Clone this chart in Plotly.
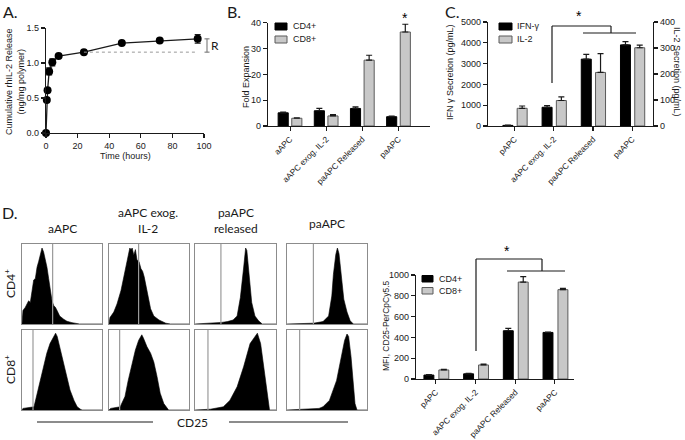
import plotly.graph_objects as go

W, H = 685, 440
def px(x): return x / W
def py(y): return 1 - y / H

# ---------------- Data ----------------
# Panel A
time_h = [0, 0.5, 1, 2, 4, 8, 24, 48, 72, 96]
release = [0.0, 0.47, 0.61, 0.88, 1.01, 1.10, 1.155, 1.285, 1.32, 1.345]
release_err = [0, 0.01, 0.02, 0.05, 0.05, 0.02, 0.02, 0.02, 0.02, 0.06]
time_ticks = [0, 20, 40, 60, 80, 100]
release_ticks = [0.0, 0.5, 1.0, 1.5]
release_ticktext = ["0.0", "0.5", "1.0", "1.5"]

# Panel B
cats_b = ["aAPC", "aAPC exog. IL-2", "paAPC Released", "paAPC"]
fold_cd4 = [5.1, 5.9, 6.8, 3.6]
fold_cd4_err = [0.3, 0.9, 0.6, 0.2]
fold_cd8 = [3.0, 3.9, 25.5, 36.4]
fold_cd8_err = [0.2, 0.5, 1.9, 3.0]
fold_ticks = [0, 10, 20, 30, 40]

# Panel C
cats_c = ["pAPC", "aAPC exog. IL-2", "paAPC Released", "paAPC"]
ifng = [30, 900, 3215, 3900]
ifng_err = [15, 80, 230, 160]
il2 = [68, 98, 206, 301]
il2_err = [9, 14, 72, 10]
ifng_ticks = [0, 1000, 2000, 3000, 4000, 5000]
il2_ticks = [0, 100, 200, 300, 400]

# Panel D (bar chart)
cats_d = ["pAPC", "aAPC exog. IL-2", "paAPC Released", "paAPC"]
mfi_cd4 = [38, 50, 464, 448]
mfi_cd4_err = [4, 5, 22, 3]
mfi_cd8 = [87, 135, 932, 859]
mfi_cd8_err = [5, 8, 52, 12]
mfi_ticks = [0, 200, 400, 600, 800, 1000]

# Panel D (CD25 histograms, normalised channel vs. normalised count)
hist_cols = ["aAPC", "aAPC exog.<br>IL-2", "paAPC<br>released", "paAPC"]
hist_rows = ["CD4<sup>+</sup>", "CD8<sup>+</sup>"]

h_cd4_aapc_x = [0.0, 0.012, 0.042, 0.083, 0.104, 0.125, 0.146, 0.167, 0.188, 0.208, 0.229, 0.25, 0.27,
                0.29, 0.312, 0.333, 0.354, 0.375, 0.396, 0.417, 0.438, 0.471, 0.521, 0.562, 0.625, 0.688, 0.72, 1.0]
h_cd4_aapc_y = [0.0, 0.17, 0.21, 0.29, 0.27, 0.42, 0.55, 0.57, 0.71, 0.78, 0.88, 0.95, 0.90,
                0.82, 0.71, 0.57, 0.42, 0.29, 0.23, 0.21, 0.17, 0.10, 0.06, 0.034, 0.017, 0.004, 0.0, 0.0]

h_cd4_exog_x = [0.0, 0.012, 0.06, 0.10, 0.15, 0.19, 0.23, 0.26, 0.275, 0.29, 0.31, 0.33, 0.35, 0.375,
                0.40, 0.42, 0.44, 0.48, 0.52, 0.56, 0.625, 0.71, 0.77, 1.0]
h_cd4_exog_y = [0.0, 0.08, 0.15, 0.25, 0.42, 0.63, 0.84, 0.95, 0.93, 0.95, 0.86, 0.93, 0.80, 0.78,
                0.69, 0.66, 0.59, 0.38, 0.19, 0.10, 0.05, 0.01, 0.0, 0.0]

h_cd4_rel_x = [0.0, 0.25, 0.33, 0.40, 0.47, 0.52, 0.56, 0.60, 0.625, 0.64, 0.67, 0.70, 0.74, 0.785, 0.83, 1.0]
h_cd4_rel_y = [0.0, 0.01, 0.02, 0.03, 0.05, 0.10, 0.33, 0.70, 0.95, 0.92, 0.62, 0.27, 0.10, 0.04, 0.0, 0.0]

h_cd4_pa_x = [0.0, 0.33, 0.45, 0.52, 0.56, 0.58, 0.61, 0.63, 0.65, 0.68, 0.71, 0.75, 0.79, 0.83, 1.0]
h_cd4_pa_y = [0.0, 0.01, 0.03, 0.10, 0.35, 0.62, 0.87, 0.95, 0.88, 0.62, 0.31, 0.15, 0.04, 0.0, 0.0]

h_cd8_aapc_x = [0.0, 0.012, 0.15, 0.19, 0.23, 0.27, 0.31, 0.35, 0.40, 0.42, 0.44, 0.48, 0.52, 0.56,
                0.60, 0.65, 0.69, 0.73, 0.75, 1.0]
h_cd8_aapc_y = [0.0, 0.02, 0.04, 0.20, 0.37, 0.54, 0.71, 0.83, 0.92, 0.96, 0.92, 0.75, 0.60, 0.42,
                0.25, 0.12, 0.04, 0.01, 0.0, 0.0]

h_cd8_exog_x = [0.0, 0.02, 0.14, 0.20, 0.24, 0.29, 0.33, 0.37, 0.41, 0.43, 0.475, 0.52, 0.56, 0.60,
                0.64, 0.685, 0.725, 0.745, 1.0]
h_cd8_exog_y = [0.0, 0.02, 0.04, 0.17, 0.37, 0.58, 0.75, 0.87, 0.94, 0.90, 0.79, 0.71, 0.60, 0.42,
                0.21, 0.08, 0.02, 0.0, 0.0]

h_cd8_rel_x = [0.0, 0.19, 0.35, 0.43, 0.52, 0.60, 0.68, 0.74, 0.77, 0.81, 0.85, 0.89, 0.92, 1.0]
h_cd8_rel_y = [0.0, 0.01, 0.04, 0.12, 0.29, 0.54, 0.83, 0.92, 0.96, 0.83, 0.54, 0.21, 0.0, 0.0]

h_cd8_pa_x = [0.0, 0.24, 0.40, 0.45, 0.53, 0.62, 0.68, 0.72, 0.75, 0.77, 0.80, 0.83, 0.85, 0.875, 1.0]
h_cd8_pa_y = [0.0, 0.01, 0.02, 0.04, 0.12, 0.37, 0.67, 0.87, 0.95, 0.92, 0.67, 0.33, 0.08, 0.0, 0.0]

hist_x = [[h_cd4_aapc_x, h_cd4_exog_x, h_cd4_rel_x, h_cd4_pa_x],
          [h_cd8_aapc_x, h_cd8_exog_x, h_cd8_rel_x, h_cd8_pa_x]]
hist_y = [[h_cd4_aapc_y, h_cd4_exog_y, h_cd4_rel_y, h_cd4_pa_y],
          [h_cd8_aapc_y, h_cd8_exog_y, h_cd8_rel_y, h_cd8_pa_y]]
gate_pos = [[0.383, 0.37, 0.32, 0.33],
            [0.1375, 0.133, 0.16, 0.158]]

# ---------------- Styles ----------------
INK = "#1a1a1a"
GRAY = "#c8c8c8"
GRAY_EDGE = "#5a5a5a"
FONT = "Liberation Sans"
GILL = "Lato"

def axis(**kw):
    d = dict(showline=True, linecolor=INK, linewidth=1.2, ticks="outside", ticklen=4,
             tickwidth=1.1, tickcolor=INK, showgrid=False, zeroline=False, automargin=False,
             tickfont=dict(family=FONT, size=9, color=INK))
    d.update(kw)
    return d

fig = go.Figure()
layout = dict(width=W, height=H, margin=dict(l=0, r=0, t=0, b=0, pad=0, autoexpand=False),
              paper_bgcolor="white", plot_bgcolor="white", showlegend=False,
              barmode="overlay", hovermode=False)

# ---------- Panel A ----------
fig.add_trace(go.Scatter(x=time_h, y=release, mode="lines+markers",
                         line=dict(color=INK, width=1.3),
                         marker=dict(color="black", size=8),
                         error_y=dict(type="data", array=release_err, color=INK, thickness=1.2, width=3),
                         cliponaxis=False, xaxis="x", yaxis="y"))
fig.add_trace(go.Scatter(x=[time_h[6], time_h[-1]], y=[release[6], release[6]], mode="lines",
                         line=dict(color="#999999", width=1, dash="dot"), xaxis="x", yaxis="y"))
layout["xaxis"] = axis(domain=[px(46), px(204)], range=[0, 100], tickvals=time_ticks, anchor="y")
layout["yaxis"] = axis(domain=[py(133), py(28)], range=[0, 1.5], tickvals=release_ticks,
                       ticktext=release_ticktext, anchor="x")

# ---------- Panel B ----------
fig.add_trace(go.Bar(x=list(range(4)), y=fold_cd4, offset=-0.33, width=0.28,
                     marker=dict(color="black", line=dict(color="black", width=1)),
                     error_y=dict(type="data", array=fold_cd4_err, arrayminus=[0]*4, symmetric=False,
                                  color=INK, thickness=1.2, width=3),
                     xaxis="x2", yaxis="y2"))
fig.add_trace(go.Bar(x=list(range(4)), y=fold_cd8, offset=0.047, width=0.28,
                     marker=dict(color=GRAY, line=dict(color=GRAY_EDGE, width=1)),
                     error_y=dict(type="data", array=fold_cd8_err, arrayminus=[0]*4, symmetric=False,
                                  color=INK, thickness=1.2, width=3),
                     xaxis="x2", yaxis="y2"))
catfont = dict(family=FONT, size=8.3, color=INK)
layout["xaxis2"] = axis(domain=[px(268), px(430)], range=[-0.61, 3.87], tickvals=list(range(4)),
                        ticktext=cats_b, tickangle=-45, anchor="y2", tickfont=catfont)
layout["yaxis2"] = axis(domain=[py(126), py(22.7)], range=[0, 40], tickvals=fold_ticks, anchor="x2")

# ---------- Panel C ----------
fig.add_trace(go.Bar(x=list(range(4)), y=ifng, offset=-0.30, width=0.255,
                     marker=dict(color="black", line=dict(color="black", width=1)),
                     error_y=dict(type="data", array=ifng_err, arrayminus=[0]*4, symmetric=False,
                                  color=INK, thickness=1.2, width=3),
                     xaxis="x3", yaxis="y3"))
fig.add_trace(go.Bar(x=list(range(4)), y=il2, offset=0.064, width=0.255,
                     marker=dict(color=GRAY, line=dict(color=GRAY_EDGE, width=1)),
                     error_y=dict(type="data", array=il2_err, arrayminus=[0]*4, symmetric=False,
                                  color=INK, thickness=1.2, width=3),
                     xaxis="x3", yaxis="y4"))
layout["xaxis3"] = axis(domain=[px(488), px(653)], range=[-0.68, 3.53], tickvals=list(range(4)),
                        ticktext=cats_c, tickangle=-45, anchor="y3", tickfont=catfont)
layout["yaxis3"] = axis(domain=[py(126), py(22)], range=[0, 5000], tickvals=ifng_ticks, anchor="x3")
layout["yaxis4"] = axis(domain=[py(126), py(22)], range=[0, 400], tickvals=il2_ticks, anchor="x3",
                        overlaying="y3", side="right")

# ---------- Panel D bars ----------
fig.add_trace(go.Bar(x=list(range(4)), y=mfi_cd4, offset=-0.30, width=0.25,
                     marker=dict(color="black", line=dict(color="black", width=1)),
                     error_y=dict(type="data", array=mfi_cd4_err, arrayminus=[0]*4, symmetric=False,
                                  color=INK, thickness=1.2, width=3),
                     xaxis="x4", yaxis="y5"))
fig.add_trace(go.Bar(x=list(range(4)), y=mfi_cd8, offset=0.076, width=0.25,
                     marker=dict(color=GRAY, line=dict(color=GRAY_EDGE, width=1)),
                     error_y=dict(type="data", array=mfi_cd8_err, arrayminus=[0]*4, symmetric=False,
                                  color=INK, thickness=1.2, width=3),
                     xaxis="x4", yaxis="y5"))
layout["xaxis4"] = axis(domain=[px(416), px(574)], range=[-0.50, 3.48], tickvals=list(range(4)),
                        ticktext=cats_d, tickangle=-45, anchor="y5", tickfont=catfont)
layout["yaxis5"] = axis(domain=[py(379), py(275)], range=[0, 1000], tickvals=mfi_ticks, anchor="x4")

# ---------- Panel D histograms ----------
col_px = [(22, 102), (109, 189), (195, 276), (287, 367)]
row_px = [(244, 324), (330, 410)]
shapes = []
k = 0
for r in range(2):
    for c in range(4):
        xi = 5 + k
        yi = 6 + k
        xn, yn = f"x{xi}", f"y{yi}"
        fig.add_trace(go.Scatter(x=hist_x[r][c], y=hist_y[r][c], mode="lines", fill="tozeroy",
                                 fillcolor="black", line=dict(color="black", width=0.6),
                                 xaxis=xn, yaxis=yn))
        box = dict(showline=True, mirror=True, linecolor="#8c8c8c", linewidth=1.2, ticks="",
                   showticklabels=False, showgrid=False, zeroline=False, fixedrange=True,
                   automargin=False)
        layout[f"xaxis{xi}"] = dict(box, domain=[px(col_px[c][0]), px(col_px[c][1])], range=[0, 1],
                                    anchor=yn)
        layout[f"yaxis{yi}"] = dict(box, domain=[py(row_px[r][1]), py(row_px[r][0])], range=[0, 1],
                                    anchor=xn)
        shapes.append(dict(type="line", xref=xn, yref=yn, x0=gate_pos[r][c], x1=gate_pos[r][c],
                           y0=0, y1=1, line=dict(color="#9a9a9a", width=1.2)))
        k += 1

# ---------- decorations ----------
def seg(x0, y0, x1, y1, color=INK, width=1.2, dash=None):
    ln = dict(color=color, width=width)
    if dash:
        ln["dash"] = dash
    shapes.append(dict(type="line", xref="paper", yref="paper", x0=px(x0), y0=py(y0),
                       x1=px(x1), y1=py(y1), line=ln))

def rect(x0, y0, x1, y1, fill, edge):
    shapes.append(dict(type="rect", xref="paper", yref="paper", x0=px(x0), y0=py(y0),
                       x1=px(x1), y1=py(y1), fillcolor=fill, line=dict(color=edge, width=1)))

# R bracket in A (data -> paper via axis A mapping)
def ya(v):
    return 133 - v / 1.5 * (133 - 28)
seg(207, ya(release[-1]), 207, ya(release[6]), color="#777777", width=1.1)
seg(204.5, ya(release[-1]), 209.5, ya(release[-1]), color="#777777", width=1.1)
seg(204.5, ya(release[6]), 209.5, ya(release[6]), color="#777777", width=1.1)

# C bracket
seg(552, 83, 552, 26)
seg(552, 26, 611, 26)
seg(611, 26, 611, 33)
seg(583, 33, 636, 33)
# D bracket
seg(476, 351, 476, 259)
seg(476, 259, 542, 259)
seg(542, 259, 542, 271)
seg(507, 271, 565, 271)
# CD25 lines
seg(37, 422, 153, 422, width=1.1)
seg(229, 422, 348, 422, width=1.1)

# legends
rect(275, 23, 287, 30, "black", "black")
rect(275, 36, 287, 43, GRAY, GRAY_EDGE)
rect(499, 23, 512, 30, "black", "black")
rect(499, 36, 512, 43, GRAY, GRAY_EDGE)
rect(422, 275.5, 433, 282, "black", "black")
rect(422, 287.5, 433, 294, GRAY, GRAY_EDGE)

layout["shapes"] = shapes

ann = []
def text(x, y, s, size=9, family=FONT, xanchor="center", yanchor="middle", angle=0, color=INK):
    ann.append(dict(x=px(x), y=py(y), xref="paper", yref="paper", text=s, showarrow=False,
                    xanchor=xanchor, yanchor=yanchor, textangle=angle,
                    font=dict(family=family, size=size, color=color)))

# panel letters
text(1, 11, "A.", size=16, family=GILL, xanchor="left")
text(225, 12, "B.", size=16, family=GILL, xanchor="left")
text(443, 12, "C.", size=16, family=GILL, xanchor="left")
text(0, 212, "D.", size=16, family=GILL, xanchor="left")

# A labels
text(15, 82, "Cumulative rhIL-2 Release<br>(ng/mg polymer)", size=9, angle=-90)
text(125, 156, "Time (hours)", size=9)
text(215, 46, "R", size=12, family=GILL)

# B labels
text(246, 77, "Fold Expansion", size=9, angle=-90)
text(291, 26.5, "CD4+", size=9, xanchor="left")
text(291, 39.5, "CD8+", size=9, xanchor="left")
text(405, 18, "*", size=14, color="#000000")

# C labels
text(450, 72, "IFN γ Secretion (pg/mL)", size=9, angle=-90)
text(677, 72, "IL-2 Secretion (pg/mL)", size=9, angle=90)
text(515, 26.5, "IFN-γ", size=9, xanchor="left")
text(515, 39.5, "IL-2", size=9, xanchor="left")
text(579, 16, "*", size=14, color="#000000")

# D bar labels
text(386, 326, "MFI, CD25-PerCpCy5.5", size=8.5, angle=-90)
text(437, 279, "CD4+", size=9, xanchor="left")
text(437, 291, "CD8+", size=9, xanchor="left")
text(507, 251, "*", size=14, color="#000000")

# D histogram labels
col_centers = [63, 148, 236, 327]
col_y = [228, 220, 220, 223]
for c in range(4):
    text(col_centers[c], col_y[c], hist_cols[c], size=12, family=GILL)
text(10, 284, hist_rows[0], size=12, family=GILL, angle=-90)
text(10, 370, hist_rows[1], size=12, family=GILL, angle=-90)
text(192, 422, "CD25", size=12, family=GILL)

layout["annotations"] = ann
fig.update_layout(**layout)
fig.write_html("out.html", config={"displayModeBar": False, "staticPlot": True},
               post_script="document.body.style.margin='0';document.body.style.padding='0';"
                           "document.body.style.overflow='hidden';")
